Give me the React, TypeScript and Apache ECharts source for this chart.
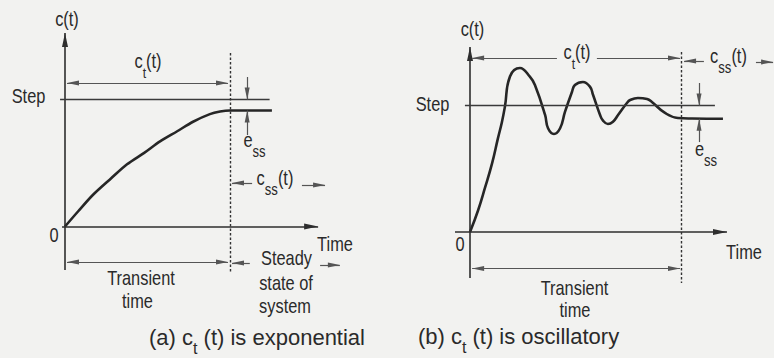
import React, { useEffect, useRef } from 'react';
import * as echarts from 'echarts';

// ---------------- data ----------------
// (a) exponential transient: time (t units) and response c(t) (step = 1)
const A_T = [0, 0.4, 0.85, 1.4, 1.88, 2.4, 2.88, 3.4, 3.88, 4.39, 4.7, 5, 6.27];
const A_V = [0, 0.12, 0.25, 0.38, 0.49, 0.58, 0.67, 0.75, 0.825, 0.885, 0.905, 0.913, 0.913];
// (b) oscillatory transient
const B_T = [0, 0.38, 0.71, 1.04, 1.32, 1.51, 1.65, 1.89, 2.36, 2.83, 3.07, 3.55, 3.69, 3.97, 4.26, 4.49, 4.82, 4.96, 5.34, 5.67, 5.82, 6.15, 6.29, 6.52, 6.76, 7.0, 7.42, 7.57, 7.94, 8.37, 8.6, 9.22, 9.83, 10.5, 11.96];
const B_V = [0, 0.17, 0.35, 0.54, 0.74, 0.87, 0.99, 1.23, 1.296, 1.228, 1.162, 0.925, 0.82, 0.775, 0.82, 0.949, 1.107, 1.162, 1.186, 1.149, 1.083, 0.925, 0.88, 0.854, 0.872, 0.925, 1.02, 1.043, 1.059, 1.051, 1.028, 0.941, 0.901, 0.897, 0.895];
const STEP = 1;
const FINAL_A = 0.913;
const FINAL_B = 0.895;
const T_END_A = 5;
const T_END_B = 10;

// ---------------- layout ----------------
const W = 774;
const H = 358;
const BG = '#f2f2f0';
const INK = '#2a2a2a';
const FONT = 'Liberation Sans, Arial, Helvetica, sans-serif';

const PA = { left: 0, width: 387, ox: 65, oy: 226.5, sx: 33, sy: 127 };
const PB = { left: 387, width: 387, ox: 470, oy: 232, sx: 21.15, sy: 126.5 };

const AXIS = { color: '#2e2e2e', width: 1.6, type: 'solid' };
const STEPL = { color: '#3a3a3a', width: 1.4, type: 'solid' };
const THIN = { color: '#555', width: 1.2, type: 'solid' };
const DASH = { color: '#333', width: 1.4, type: [2.5, 2] };
const BIG = [6, 14];
const SMALL = [5, 12];

function seg(p1: number[], p2: number[], style: any, fromSym?: number[] | null, toSym?: number[] | null) {
  const end = (p: number[], s?: number[] | null) => ({
    coord: p,
    symbol: s ? 'triangle' : 'none',
    symbolSize: s || 1,
    symbolOffset: [0, '50%'],
  });
  const a: any = end(p1, fromSym);
  a.lineStyle = style;
  return [a, end(p2, toSym)];
}

const ML_A = [
  seg([0, -0.343], [0, 1.524], AXIS, null, BIG),
  seg([-0.09, 0], [7.67, 0], AXIS, null, BIG),
  seg([-0.15, STEP], [6.2, STEP], STEPL),
  seg([T_END_A, 1.366], [T_END_A, -0.366], DASH),
  seg([0.06, 1.13], [T_END_A - 0.06, 1.13], THIN, SMALL, SMALL),
  seg([0.06, -0.28], [T_END_A - 0.06, -0.28], THIN, SMALL, SMALL),
  seg([5.52, 1.177], [5.52, STEP], THIN, null, SMALL),
  seg([5.52, 0.72], [5.52, FINAL_A], THIN, null, SMALL),
  seg([5.67, 0.343], [5.06, 0.343], THIN, null, SMALL),
  seg([7.18, 0.327], [7.88, 0.327], THIN, null, SMALL),
  seg([5.6, -0.287], [5.06, -0.287], THIN, null, SMALL),
  seg([7.73, -0.303], [8.33, -0.303], THIN, null, SMALL),
];

const ML_B = [
  seg([0, -0.364], [0, 1.462], AXIS, null, BIG),
  seg([-0.71, 0], [12.15, 0], AXIS, null, BIG),
  seg([-0.24, STEP], [11.58, STEP], STEPL),
  seg([T_END_B, 1.423], [T_END_B, -0.403], DASH),
  seg([0.1, 1.375], [4.11, 1.375], THIN, SMALL, null),
  seg([6.0, 1.375], [T_END_B - 0.07, 1.375], THIN, null, SMALL),
  seg([11.06, 1.352], [10.12, 1.352], THIN, null, SMALL),
  seg([13.52, 1.344], [14.33, 1.344], THIN, null, SMALL),
  seg([10.83, 1.178], [10.83, STEP], THIN, null, SMALL),
  seg([10.83, 0.711], [10.83, FINAL_B], THIN, null, SMALL),
  seg([0.1, -0.289], [T_END_B - 0.07, -0.289], THIN, SMALL, SMALL),
];

const rich = (size: number, sub: number) => ({
  m: { fontSize: size, fontFamily: FONT, fill: INK, lineHeight: 30, verticalAlign: 'top' },
  s: { fontSize: sub, fontFamily: FONT, fill: INK, lineHeight: 14, verticalAlign: 'bottom' },
});

function txt(x: number, y: number, text: string, opt: any = {}) {
  const size = opt.size || 20;
  return {
    type: 'text',
    x,
    y,
    scaleX: opt.sx == null ? 0.82 : opt.sx,
    silent: true,
    style: {
      text,
      fill: INK,
      fontSize: size,
      fontFamily: FONT,
      align: 'center',
      verticalAlign: 'middle',
      rich: rich(size, opt.sub || 16),
    },
  };
}

const TEXTS = [
  // (a)
  txt(67, 19, 'c(t)'),
  txt(28.5, 96, 'Step'),
  txt(148, 66, '{m|c}{s|t}{m|(t)}', { sub: 15 }),
  txt(254.5, 145, '{m|e}{s|ss}'),
  txt(275, 183, '{m|c}{s|ss}{m|(t)}'),
  txt(54, 235, '0'),
  txt(335, 244, 'Time'),
  txt(141, 278, 'Transient'),
  txt(137.5, 301, 'time'),
  txt(286.5, 258, 'Steady'),
  txt(286, 283, 'state of'),
  txt(285, 306, 'system'),
  txt(257, 341, '{m|(a) c}{s|t}{m| (t) is exponential}', { size: 22, sub: 16, sx: 1 }),
  // (b)
  txt(472.5, 29, 'c(t)'),
  txt(432.5, 103.5, 'Step'),
  txt(577, 57, '{m|c}{s|t}{m|(t)}', { sub: 15 }),
  txt(728.5, 61, '{m|c}{s|ss}{m|(t)}'),
  txt(706, 153.5, '{m|e}{s|ss}'),
  txt(460, 244, '0'),
  txt(744, 252, 'Time'),
  txt(574.5, 288, 'Transient'),
  txt(575, 310, 'time'),
  txt(518.5, 340, '{m|(b) c}{s|t}{m| (t) is oscillatory}', { size: 22, sub: 16, sx: 1 }),
];

function axesFor(p: typeof PA, idx: number) {
  return {
    x: {
      type: 'value', gridIndex: idx, show: false,
      min: -(p.ox - p.left) / p.sx,
      max: (p.left + p.width - p.ox) / p.sx,
    },
    y: {
      type: 'value', gridIndex: idx, show: false,
      min: -(H - p.oy) / p.sy,
      max: p.oy / p.sy,
    },
  };
}

function curve(ts: number[], vs: number[], idx: number, ml: any[], smooth: number) {
  return {
    type: 'line',
    xAxisIndex: idx,
    yAxisIndex: idx,
    data: ts.map((t, i) => [t, vs[i]]),
    showSymbol: false,
    smooth,
    clip: false,
    silent: true,
    lineStyle: { color: '#262626', width: 2.6 },
    markLine: {
      silent: true,
      symbol: ['none', 'none'],
      label: { show: false },
      emphasis: { disabled: true },
      data: ml,
    },
  };
}

export default function App() {
  const ref = useRef<HTMLDivElement>(null);
  useEffect(() => {
    if (!ref.current) return;
    const chart = echarts.init(ref.current, null, { renderer: 'svg', width: W, height: H });
    const a = axesFor(PA, 0);
    const b = axesFor(PB, 1);
    chart.setOption({
      animation: false,
      backgroundColor: BG,
      grid: [
        { left: PA.left, top: 0, width: PA.width, height: H },
        { left: PB.left, top: 0, width: PB.width, height: H },
      ],
      xAxis: [a.x, b.x],
      yAxis: [a.y, b.y],
      series: [curve(A_T, A_V, 0, ML_A, 0.3), curve(B_T, B_V, 1, ML_B, 0.45)],
      graphic: TEXTS,
    });
    return () => chart.dispose();
  }, []);
  return <div ref={ref} style={{ position: 'fixed', left: 0, top: 0, width: W, height: H }} />;
}
